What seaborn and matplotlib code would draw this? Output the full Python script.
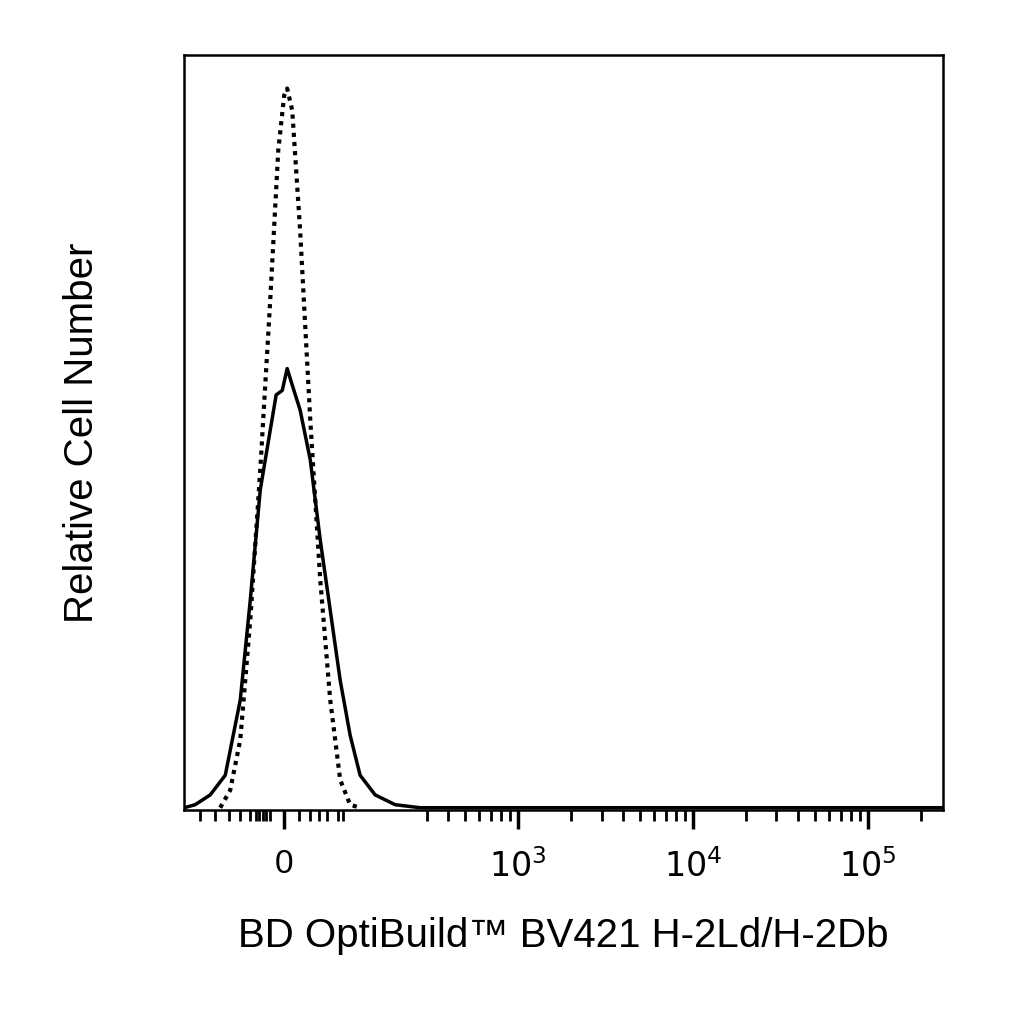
import matplotlib
matplotlib.use("Agg")
import matplotlib.pyplot as plt
import seaborn as sns
import numpy as np
import pandas as pd

sns.set_theme(style="white")
plt.rcParams['font.family'] = ['Liberation Sans', 'DejaVu Sans']

# x in display decade units (biexponential-like axis), y relative count
solid_x = [1.092, 1.154, 1.24, 1.326, 1.412, 1.469, 1.526, 1.583, 1.617, 1.652, 1.68, 1.709, 1.754, 1.812,
           1.869, 1.926, 1.983, 2.04, 2.097, 2.183, 2.297, 2.44, 5.43]
solid_y = [0.003, 0.007, 0.02, 0.046, 0.146, 0.278, 0.424, 0.503, 0.55, 0.556, 0.585, 0.563, 0.530, 0.464,
           0.358, 0.265, 0.172, 0.099, 0.046, 0.02, 0.007, 0.003, 0.003]
dot_x = [1.297, 1.354, 1.412, 1.469, 1.526, 1.583, 1.629, 1.663, 1.68, 1.709, 1.754, 1.812, 1.869, 1.926,
         1.983, 2.04, 2.097]
dot_y = [0.003, 0.026, 0.093, 0.252, 0.45, 0.675, 0.874, 0.947, 0.956, 0.927, 0.768, 0.517, 0.305, 0.146,
         0.04, 0.007, 0.003]

major_pos = [1.663, 3.0, 4.0, 5.0]
major_labels = ["0", "$10^3$", "$10^4$", "$10^5$"]
minor_lin = [1.18, 1.27, 1.35, 1.41, 1.47, 1.5, 1.52, 1.54, 1.56, 1.58, 1.75, 1.81, 1.86, 1.91, 1.97]

df_s = pd.DataFrame({"x": solid_x, "y": solid_y})
df_d = pd.DataFrame({"x": dot_x, "y": dot_y})

fig = plt.figure(figsize=(10.24, 10.24), dpi=100)
ax = fig.add_axes([0.18, 0.209, 0.741, 0.737])
sns.lineplot(data=df_s, x="x", y="y", ax=ax, color="black", lw=2.5, sort=False)
sns.lineplot(data=df_d, x="x", y="y", ax=ax, color="black", lw=3, linestyle=(0, (1, 1.2)), sort=False)

ax.set_xlim(1.092, 5.43)
ax.set_ylim(0, 1.0)
ax.set_xticks(major_pos)
ax.set_xticklabels(major_labels, fontsize=24, color="black")
minor = list(minor_lin) + [2.0]
for d in [2, 3, 4, 5]:
    for m in range(2, 10):
        v = d + np.log10(m)
        if 2.4 < v < 5.43:
            minor.append(v)
ax.set_xticks(minor, minor=True)
ax.tick_params(axis='x', which='major', direction='out', length=14, width=2.5, color='black', pad=14, bottom=True)
ax.tick_params(axis='x', which='minor', direction='out', length=8, width=2, color='black', bottom=True)
ax.set_yticks([])
for s in ax.spines.values():
    s.set_color("black")
    s.set_linewidth(1.8)
ax.set_xlabel("BD OptiBuild™ BV421 H-2Ld/H-2Db", fontsize=29, labelpad=24, color="black")
ax.set_ylabel("Relative Cell Number", fontsize=29, labelpad=60, color="black")
fig.savefig("out.png", dpi=100)
